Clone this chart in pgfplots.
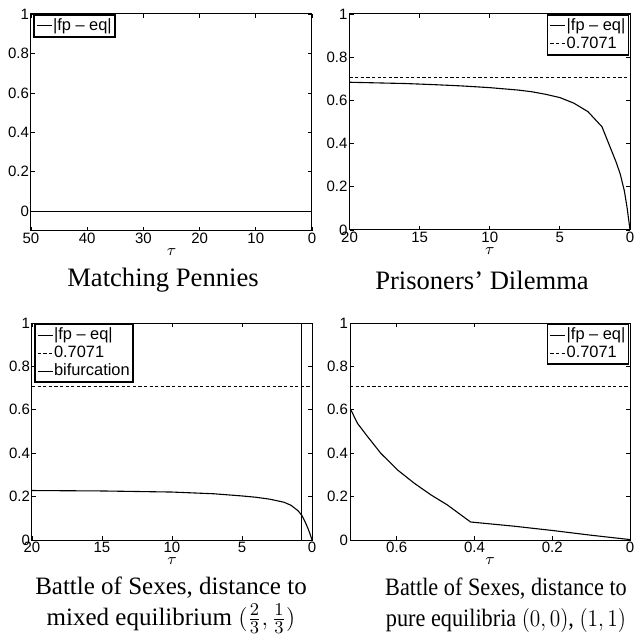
\documentclass[border=0pt]{standalone}
\usepackage{fontspec}
\setmainfont{Liberation Serif}
\setsansfont{Liberation Sans}
\usepackage{graphicx}
\usepackage{pgfplots}
\pgfplotsset{compat=1.18}

\pgfplotsset{
  common/.style={
    scale only axis,
    x dir=reverse,
    axis line style={line width=0.5pt},
    tick align=inside,
    major tick length=2pt,
    tick style={line width=0.4pt, black},
    /pgf/number format/assume math mode=true,
    ticklabel style={font=\sffamily\fontsize{7.5}{9}\selectfont},
    xticklabel style={inner sep=0pt, yshift=-1pt},
    yticklabel style={inner sep=0pt, xshift=-0.8pt},
    ytick={0,0.2,0.4,0.6,0.8,1},
    yticklabels={0,0.2,0.4,0.6,0.8,1},
    xlabel={$\tau$},
    xlabel style={at={(axis description cs:0.5,0)}, anchor=center, yshift=-10.5pt, inner sep=0pt, font=\fontsize{8}{9}\selectfont},
    legend cell align=left,
    legend image code/.code={\draw[#1, line width=0.5pt] (0pt,0pt) -- (7.5pt,0pt);},
    legend style={font=\sffamily\fontsize{8.2}{9}\selectfont, draw=black, line width=0.8pt, inner sep=1.1pt,
      nodes={text height=6.2pt, text depth=2pt, inner sep=0.4pt}},
  },
  fpline/.style={black, line width=0.55pt, solid},
  refline/.style={black, line width=0.55pt, dash pattern=on 1.6pt off 1.2pt},
}

\begin{document}
\begin{tikzpicture}
\useasboundingbox (0pt,0pt) rectangle (317pt,-317.5pt);

% Top left: Matching Pennies
\begin{axis}[common, at={(15.5pt,-7pt)}, anchor=north west,
  width=140.5pt, height=108.5pt,
  xmin=0, xmax=50, ymin=-0.1, ymax=1,
  xtick={0,10,20,30,40,50}, xticklabels={0,10,20,30,40,50},
  legend style={at={(0.008,1)}, anchor=north west}]
\addplot[fpline] coordinates {(50,0) (0,0)};
\addlegendentry{|fp – eq|}
\end{axis}

% Top right: Prisoners' Dilemma
\begin{axis}[common, at={(174.75pt,-7pt)}, anchor=north west,
  width=140.25pt, height=108pt,
  xmin=0, xmax=20, ymin=0, ymax=1,
  xtick={0,5,10,15,20}, xticklabels={0,5,10,15,20},
  legend style={at={(0.997,1)}, anchor=north east}]
\addplot[fpline] coordinates {
(20,0.684) (18,0.681) (16,0.678) (14,0.673) (12,0.667) (10,0.659)
(8,0.648) (7,0.640) (6,0.628) (5,0.613) (4,0.587) (3,0.548)
(2,0.478) (1,0.316) (0.7,0.26) (0.4,0.18) (0.2,0.10) (0,0)};
\addlegendentry{|fp – eq|}
\addplot[refline] coordinates {(20,0.7071) (0,0.7071)};
\addlegendentry{0.7071}
\end{axis}

% Bottom left: Battle of Sexes, mixed
\begin{axis}[common, at={(16pt,-161.5pt)}, anchor=north west,
  width=140pt, height=108.5pt,
  xmin=0, xmax=20, ymin=0, ymax=1,
  xtick={0,5,10,15,20}, xticklabels={0,5,10,15,20},
  legend style={at={(0.008,1)}, anchor=north west}]
\addplot[fpline] coordinates {
(20,0.228) (15,0.226) (10,0.221) (7,0.213) (5,0.203) (4,0.197)
(3,0.188) (2,0.174) (1.5,0.160) (1,0.135) (0.72,0.113) (0.5,0.085)
(0.3,0.055) (0.15,0.03) (0,0)};
\addlegendentry{|fp – eq|}
\addplot[refline] coordinates {(20,0.7071) (0,0.7071)};
\addlegendentry{0.7071}
\addplot[fpline] coordinates {(0.72,0) (0.72,1)};
\addlegendentry{bifurcation}
\end{axis}

% Bottom right: Battle of Sexes, pure
\begin{axis}[common, at={(175pt,-161.5pt)}, anchor=north west,
  width=140pt, height=108.5pt,
  xmin=0, xmax=0.72, ymin=0, ymax=1,
  xtick={0,0.2,0.4,0.6}, xticklabels={0,0.2,0.4,0.6},
  legend style={at={(0.997,1)}, anchor=north east}]
\addplot[fpline] coordinates {
(0.72,0.608) (0.701,0.538) (0.675,0.477) (0.641,0.40) (0.598,0.323)
(0.555,0.262) (0.512,0.208) (0.470,0.162) (0.41,0.083)
(0.3,0.064) (0.2,0.044) (0.1,0.022) (0,0.002)};
\addlegendentry{|fp – eq|}
\addplot[refline] coordinates {(0.72,0.7071) (0,0.7071)};
\addlegendentry{0.7071}
\end{axis}

\tikzset{ttl/.style={align=center, inner sep=0pt}}
\node[ttl, font=\fontsize{13.3}{15.5}\selectfont] at (81.5pt,-140pt) {Matching Pennies};
\node[ttl, font=\fontsize{13.3}{15.5}\selectfont] at (241pt,-140pt) {Prisoners’ Dilemma};
\node[ttl, font=\fontsize{12.5}{15.5}\selectfont] at (85.5pt,-302.5pt) {Battle of Sexes, distance to\\mixed equilibrium $(\frac{2}{3},\frac{1}{3})$};
\node[ttl, font=\fontsize{12.5}{15.5}\selectfont] at (253pt,-302.5pt) {\scalebox{0.89}[1]{\begin{tabular}{@{}c@{}}Battle of Sexes, distance to\\[-0.2pt]pure equilibria $(0,0)$, $(1,1)$\end{tabular}}};
\end{tikzpicture}
\end{document}
